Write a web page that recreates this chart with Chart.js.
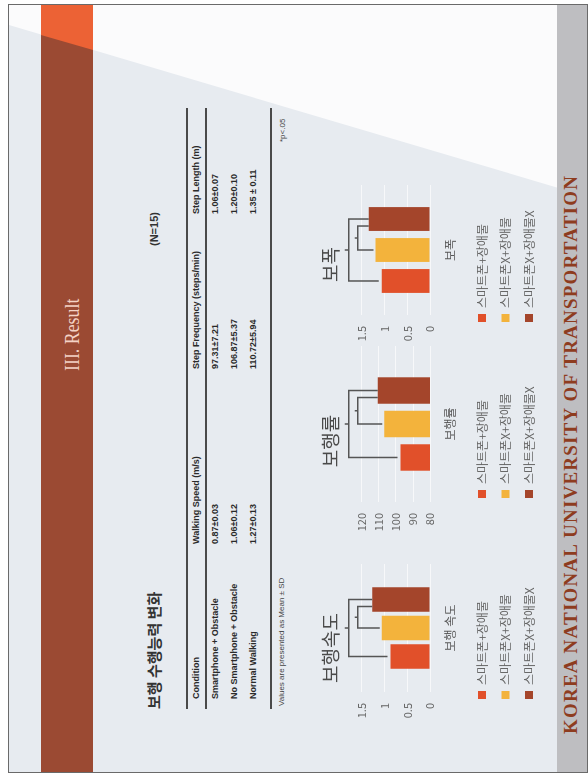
<!DOCTYPE html>
<html>
<head>
<meta charset="utf-8">
<script src="https://cdn.jsdelivr.net/npm/chart.js@4.4.0/dist/chart.umd.min.js"></script>
<style>
  html, body { margin: 0; padding: 0; background: #fff; width: 588px; height: 775px; overflow: hidden; }
  /* the slide is laid out landscape and turned a quarter to the left */
  #slide {
    position: absolute; left: 8px; top: 0; width: 769px; height: 580px;
    transform-origin: 0 0; transform: translate(0, 773px) rotate(-90deg);
    background: #E7EBF0; border: 1px solid #6a6a6a; box-sizing: border-box; overflow: hidden;
    font-family: "Liberation Sans", Arial, sans-serif;
  }
  .abs { position: absolute; white-space: nowrap; }
  #glare { left: 0; top: 0; width: 769px; height: 580px; background: #fbfbfc;
    clip-path: polygon(747px 0, 769px 0, 769px 580px, 575px 580px); }
  #band { left: 0; top: 32px; width: 769px; height: 52px; background: #9B4A33; }
  #bandTip { left: 0; top: 32px; width: 769px; height: 52px; background: #EC6235;
    clip-path: polygon(737px 0, 769px 0, 769px 52px, 722px 52px); }
  #section { left: 401px; top: 48px; height: 30px; line-height: 30px; font-family: "Liberation Serif", serif;
    font-size: 21px; color: #F4D3C6; transform: scaleX(0.85); transform-origin: 0 50%; }
  #footerBand { left: 0; top: 548px; width: 769px; height: 32px; background: #BEBEC1; }
  #univ { left: 38px; top: 551px; height: 22px; line-height: 22px; font-family: "Liberation Serif", serif;
    font-weight: bold; font-size: 19px; letter-spacing: 1.2px; color: #8E3C1F; }
  #tableTitle { left: 63px; top: 136px; height: 18px; line-height: 18px; font-size: 15px; font-weight: bold;
    color: #333; font-family: "Noto Sans CJK KR", sans-serif; }
  #nCount { left: 526px; top: 138px; height: 14px; line-height: 14px; font-size: 11px; font-weight: bold; color: #333; }
  .rule { left: 63px; width: 601px; background: #4a4a4a; }
  .cell { height: 12px; line-height: 12px; font-size: 9px; font-weight: bold; color: #2a2a2a; }
  .note { height: 12px; line-height: 12px; font-size: 8px; color: #444; }
  canvas { position: absolute; }
</style>
</head>
<body>
<div id="slide">
  <div class="abs" id="glare"></div>
  <div class="abs" id="band"></div>
  <div class="abs" id="bandTip"></div>
  <div class="abs" id="section">III. Result</div>
  <div class="abs" id="footerBand"></div>
  <div class="abs" id="univ">KOREA NATIONAL UNIVERSITY OF TRANSPORTATION</div>
  <div class="abs" id="tableTitle">보행 수행능력 변화</div>
  <div class="abs" id="nCount">(N=15)</div>
  <div id="table"></div>
  <canvas id="speedChart" width="178" height="245" style="left:40px;top:295px"></canvas>
  <canvas id="cadenceChart" width="191" height="245" style="left:236px;top:295px"></canvas>
  <canvas id="strideChart" width="167" height="245" style="left:428px;top:295px"></canvas>
</div>
<script>
// conditions (legend) and bar colours
const conditions = ["스마트폰+장애물", "스마트폰X+장애물", "스마트폰X+장애물X"];
const barColors = ["#E1502A", "#F3B33C", "#A4452B"];

// walking speed (m/s)
const speedTitle = "보행속도";
const speedCategory = ["보행 속도"];
const speedValues = [0.87, 1.06, 1.27];

// step frequency (steps/min)
const cadenceTitle = "보행률";
const cadenceCategory = ["보행률"];
const cadenceValues = [97.31, 106.87, 110.72];

// step length (m)
const strideTitle = "보폭";
const strideCategory = ["보폭"];
const strideValues = [1.06, 1.20, 1.35];

// table text
const tableHeader = ["Condition", "Walking Speed (m/s)", "Step Frequency (steps/min)", "Step Length (m)"];
const tableRows = [
  ["Smartphone + Obstacle", "0.87±0.03", "97.31±7.21", "1.06±0.07"],
  ["No Smartphone + Obstacle", "1.06±0.12", "106.87±5.37", "1.20±0.10"],
  ["Normal Walking", "1.27±0.13", "110.72±5.94", "1.35 ± 0.11"]
];
const tableNote = "Values are presented as Mean ± SD";
const tableSig = "*p<.05";

// build the table
function buildTable() {
  const box = document.getElementById("table");
  const colX = [73, 228, 403, 558];
  const rowY = [181, 200, 219, 238];
  const rules = [[177, 2], [196, 1.5], [261, 1.5]];
  rules.forEach(([y, h]) => {
    const d = document.createElement("div");
    d.className = "abs rule";
    d.style.top = y + "px";
    d.style.height = h + "px";
    box.appendChild(d);
  });
  [tableHeader, ...tableRows].forEach((row, r) => {
    row.forEach((txt, c) => {
      const d = document.createElement("div");
      d.className = "abs cell";
      d.style.left = colX[c] + "px";
      d.style.top = rowY[r] + "px";
      d.textContent = txt;
      box.appendChild(d);
    });
  });
  const note = document.createElement("div");
  note.className = "abs note";
  note.style.left = "66px";
  note.style.top = "267px";
  note.textContent = tableNote;
  box.appendChild(note);
  const sig = document.createElement("div");
  sig.className = "abs note";
  sig.style.left = "630px";
  sig.style.top = "268px";
  sig.textContent = tableSig;
  box.appendChild(sig);
}

// dendrogram-like significance brackets above the bars
const bracketPlugin = {
  id: "brackets",
  afterDatasetsDraw(chart) {
    const ctx = chart.ctx;
    const bars = [0, 1, 2].map(i => chart.getDatasetMeta(i).data[0]);
    const top = chart.chartArea.top;
    const outerY = top - 13;
    const innerY = top - 4;
    const xa = bars[0].x, xb = bars[1].x, xc = bars[2].x;
    const xcIn = xc - 7;
    ctx.save();
    ctx.strokeStyle = "#555";
    ctx.lineWidth = 1.5;
    ctx.beginPath();
    ctx.moveTo(xa, bars[0].y - 3);
    ctx.lineTo(xa, outerY);
    ctx.lineTo(xc, outerY);
    ctx.lineTo(xc, bars[2].y);
    ctx.moveTo((xa + xc) / 2, outerY);
    ctx.lineTo((xa + xc) / 2, outerY - 4);
    ctx.moveTo(xb, bars[1].y - 2);
    ctx.lineTo(xb, innerY);
    ctx.lineTo(xcIn, innerY);
    ctx.lineTo(xcIn, bars[2].y);
    ctx.moveTo((xb + xcIn) / 2, innerY);
    ctx.lineTo((xb + xcIn) / 2, innerY - 3);
    ctx.stroke();
    ctx.restore();
  }
};

// moves the stacked legend so it starts under the plot
const legendShift = {
  id: "legendShift",
  afterLayout(chart, args, opts) {
    const pad = chart.options.plugins.legend.labels.padding;
    chart.legend.left = opts.x - pad;
  }
};

Chart.defaults.font.family = "'Noto Sans CJK KR', 'Noto Sans', sans-serif";

function buildChart(id, title, category, values, yMin, yMax, step, o) {
  return new Chart(document.getElementById(id), {
    type: "bar",
    data: {
      labels: category,
      datasets: conditions.map((name, i) => ({
        label: name,
        data: [values[i]],
        backgroundColor: barColors[i],
        borderWidth: 0,
        categoryPercentage: o.cat,
        barPercentage: o.bar
      }))
    },
    options: {
      responsive: false,
      animation: false,
      layout: { padding: { left: 0, right: o.padRight, top: 0, bottom: 4 } },
      scales: {
        x: {
          grid: { display: false, drawTicks: false },
          border: { display: false },
          ticks: { padding: 13, color: "#555", font: { size: 12 } },
          afterFit: s => { s.height -= 6; }
        },
        y: {
          min: yMin,
          max: yMax,
          grid: { color: "#F7F8FA", drawTicks: false },
          border: { display: false },
          ticks: {
            stepSize: step, autoSkip: false, padding: 11, color: "#666", font: { size: 11 },
            callback: v => String(v)
          },
          afterFit: s => { s.width = o.axisWidth; }
        }
      },
      plugins: {
        title: {
          display: true,
          text: title,
          color: "#4a4a4a",
          font: { size: 19, weight: "normal" },
          padding: { top: 15, bottom: 20 }
        },
        legend: {
          position: "bottom",
          align: "start",
          labels: { boxWidth: 8, boxHeight: 8, padding: 11.5, color: "#666", font: { size: 12 } }
        },
        tooltip: { enabled: false },
        legendShift: { x: o.legendX }
      }
    },
    plugins: [bracketPlugin, legendShift]
  });
}

document.addEventListener("DOMContentLoaded", () => {
  buildTable();
  buildChart("speedChart", speedTitle, speedCategory, speedValues, 0, 1.5, 0.5,
    { cat: 0.668, bar: 0.86, padRight: 10, axisWidth: 40, legendX: 33 });
  buildChart("cadenceChart", cadenceTitle, cadenceCategory, cadenceValues, 80, 120, 10,
    { cat: 0.644, bar: 0.79, padRight: 1, axisWidth: 34, legendX: 38 });
  buildChart("strideChart", strideTitle, strideCategory, strideValues, 0, 1.5, 0.5,
    { cat: 0.715, bar: 0.77, padRight: 8, axisWidth: 29, legendX: 22 });
});
</script>
</body>
</html>
